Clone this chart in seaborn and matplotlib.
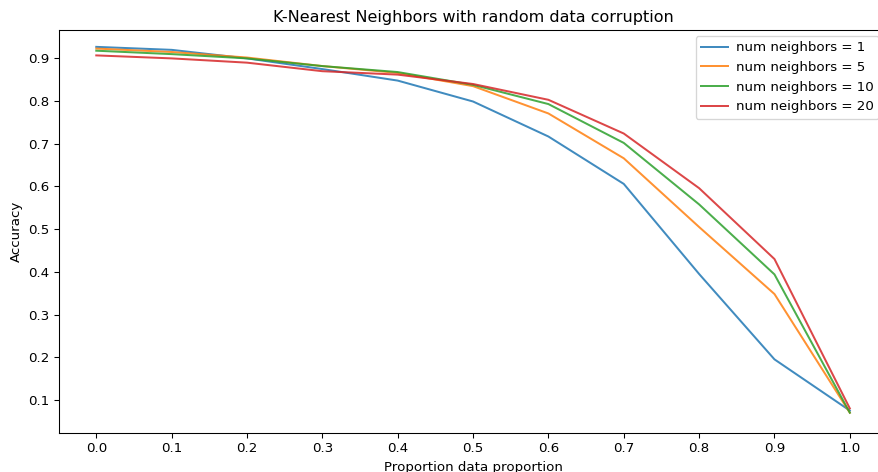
import pandas as pd
import seaborn as sns
import matplotlib.pyplot as plt

# corruption proportion on x
proportion = [0.0, 0.1, 0.2, 0.3, 0.4, 0.5, 0.6, 0.7, 0.8, 0.9, 1.0]
neighbors = [1, 5, 10, 20]
yticks = [0.1, 0.2, 0.3, 0.4, 0.5, 0.6, 0.7, 0.8, 0.9]

acc_1 = [0.927, 0.920, 0.900, 0.875, 0.848, 0.799, 0.717, 0.606, 0.395, 0.195, 0.075]
acc_5 = [0.923, 0.915, 0.902, 0.882, 0.866, 0.835, 0.771, 0.666, 0.505, 0.348, 0.070]
acc_10 = [0.918, 0.910, 0.900, 0.882, 0.868, 0.838, 0.793, 0.702, 0.558, 0.394, 0.070]
acc_20 = [0.907, 0.900, 0.890, 0.870, 0.862, 0.840, 0.803, 0.724, 0.596, 0.430, 0.080]

rows = []
for k, acc in zip(neighbors, [acc_1, acc_5, acc_10, acc_20]):
    for p, a in zip(proportion, acc):
        rows.append({"proportion": p, "accuracy": a, "label": "num neighbors = %d" % k})
df = pd.DataFrame(rows)
labels = ["num neighbors = %d" % k for k in neighbors]

plt.rcParams['font.family'] = ['DejaVu Sans']
plt.rcParams['font.size'] = 10

fig = plt.figure(figsize=(878 / 96, 472 / 96), dpi=96)
ax = fig.add_axes([58.6 / 878, 1 - 433 / 472, (887.5 - 58.6) / 878, (433 - 30) / 472])
sns.lineplot(data=df, x="proportion", y="accuracy", hue="label", hue_order=labels,
             palette=sns.color_palette("tab10", 4), linewidth=1.5, alpha=0.85, ax=ax)

ax.set_xticks(proportion)
ax.set_yticks(yticks)
ax.set_xlim(-0.05, 1.05)
ax.set_ylim(0.0225, 0.9665)
ax.spines["right"].set_visible(False)  # off the cropped canvas
ax.set_title("K-Nearest Neighbors with random data corruption")
ax.set_xlabel("Proportion data proportion")
ax.set_ylabel("Accuracy")
leg = ax.legend(loc="upper right", title=None, bbox_to_anchor=(879 / 878, 1 - 36 / 472),
                bbox_transform=fig.transFigure, borderaxespad=0, handletextpad=0.6)
for line in leg.get_lines():
    line.set_alpha(0.85)

fig.savefig("out.png", dpi=96)
